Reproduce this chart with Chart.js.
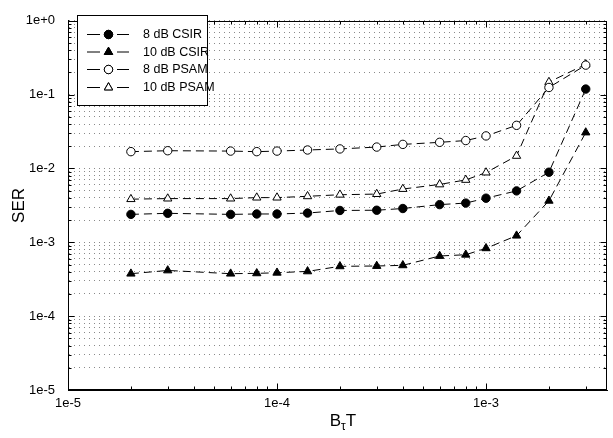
<!DOCTYPE html>
<html>
<head>
<meta charset="utf-8">
<script src="https://cdn.jsdelivr.net/npm/chart.js@4.4.0/dist/chart.umd.min.js"></script>
<style>
  html, body { margin: 0; padding: 0; background: #fff; }
  #wrap { width: 613px; height: 438px; position: relative; }
</style>
</head>
<body>
<div id="wrap"><canvas id="c" width="613" height="438"></canvas></div>
<script>
// Normalised Doppler bandwidth B_tau*T sampled in the simulation
const bandwidthTime = [2e-5, 3e-5, 6e-5, 8e-5, 1e-4, 1.4e-4, 2e-4, 3e-4, 4e-4, 6e-4, 8e-4, 1e-3, 1.4e-3, 2e-3, 3e-3];

// Symbol error rate per scheme / SNR
const ser8dbCsir  = [2.39e-3, 2.47e-3, 2.39e-3, 2.42e-3, 2.42e-3, 2.49e-3, 2.70e-3, 2.72e-3, 2.87e-3, 3.24e-3, 3.40e-3, 3.96e-3, 4.97e-3, 8.9e-3, 1.19e-1];
const ser10dbCsir = [3.76e-4, 4.16e-4, 3.76e-4, 3.80e-4, 3.87e-4, 4.04e-4, 4.73e-4, 4.78e-4, 4.88e-4, 6.53e-4, 6.79e-4, 8.3e-4, 1.23e-3, 3.65e-3, 3.07e-2];
const ser8dbPsam  = [1.69e-2, 1.74e-2, 1.72e-2, 1.69e-2, 1.72e-2, 1.78e-2, 1.84e-2, 1.95e-2, 2.12e-2, 2.26e-2, 2.39e-2, 2.76e-2, 3.84e-2, 1.25e-1, 2.51e-1];
const ser10dbPsam = [3.84e-3, 3.91e-3, 3.91e-3, 4.03e-3, 4.03e-3, 4.2e-3, 4.41e-3, 4.5e-3, 5.27e-3, 6.08e-3, 7.0e-3, 8.8e-3, 1.48e-2, 1.48e-1, 2.57e-1];

const seriesLabels = ['8 dB CSIR', '10 dB CSIR', '8 dB PSAM', '10 dB PSAM'];
const seriesValues = [ser8dbCsir, ser10dbCsir, ser8dbPsam, ser10dbPsam];

// Axis ranges (decades)
const xRange = [1e-5, 3.8e-3];
const yRange = [1e-5, 1];

const FONT = '"Liberation Sans", Arial, sans-serif';

const markerShapes = ['circle', 'triangle', 'circle', 'triangle'];
const markerFills  = ['#000', '#000', '#fff', '#fff'];
const markerRadius = [4.2, 4.8, 4.2, 4.8];

function logTicks(min, max) {
  const out = [];
  const e0 = Math.floor(Math.log10(min) + 1e-9);
  const e1 = Math.ceil(Math.log10(max) - 1e-9);
  for (let e = e0; e <= e1; e++) {
    for (let m = 1; m <= 9; m++) {
      const v = m * Math.pow(10, e);
      if (v >= min * (1 - 1e-9) && v <= max * (1 + 1e-9)) out.push({ value: v });
    }
  }
  return out;
}
function isDecade(v) {
  const l = Math.log10(v);
  return Math.abs(l - Math.round(l)) < 1e-6;
}
function decadeLabel(v) {
  if (!isDecade(v)) return '';
  const e = Math.round(Math.log10(v));
  return '1e' + (e >= 0 ? '+' : '-') + Math.abs(e);
}

const datasets = seriesLabels.map((label, i) => ({
  label,
  data: bandwidthTime.map((x, k) => ({ x, y: seriesValues[i][k] })),
  borderColor: '#000',
  borderWidth: 1,
  borderDash: [8, 5],
  fill: false,
  tension: 0,
  pointStyle: markerShapes[i],
  pointRadius: markerRadius[i],
  pointBackgroundColor: markerFills[i],
  pointBorderColor: '#000',
  pointBorderWidth: 1,
  pointHoverRadius: markerRadius[i]
}));

// Frame, inward tick marks, in-plot legend and subscripted x title
const decorations = {
  id: 'decorations',
  afterDatasetsDraw(chart) {
    const ctx = chart.ctx;
    const a = chart.chartArea;
    const xs = chart.scales.x, ys = chart.scales.y;
    const L = Math.round(a.left) + 0.5, R = Math.round(a.right) - 0.5;
    const T = Math.round(a.top) + 0.5, B = Math.round(a.bottom) - 0.5;

    ctx.save();
    ctx.strokeStyle = '#000';
    ctx.lineWidth = 1;
    ctx.setLineDash([]);
    ctx.strokeRect(L, T, R - L, B - T);

    ctx.beginPath();
    xs.ticks.forEach(t => {
      const px = Math.round(xs.getPixelForValue(t.value)) + 0.5;
      const len = isDecade(t.value) ? 6 : 3;
      ctx.moveTo(px, B); ctx.lineTo(px, B - len);
      ctx.moveTo(px, T); ctx.lineTo(px, T + len);
    });
    ys.ticks.forEach(t => {
      const py = Math.round(ys.getPixelForValue(t.value)) + 0.5;
      const len = isDecade(t.value) ? 6 : 3;
      ctx.moveTo(L, py); ctx.lineTo(L + len, py);
      ctx.moveTo(R, py); ctx.lineTo(R - len, py);
    });
    ctx.stroke();

    // legend box
    const lx = 77.5, ly = 15.5, lw = 130, lh = 90;
    ctx.fillStyle = '#fff';
    ctx.fillRect(lx, ly, lw, lh);
    ctx.strokeRect(lx, ly, lw, lh);
    const rowY = [34.5, 52, 69.5, 87.5];
    chart.data.datasets.forEach((ds, i) => {
      const y = rowY[i];
      ctx.beginPath();
      ctx.moveTo(87, y); ctx.lineTo(100, y);
      ctx.moveTo(117, y); ctx.lineTo(129, y);
      ctx.strokeStyle = '#000';
      ctx.stroke();
      Chart.helpers.drawPoint(ctx, {
        pointStyle: ds.pointStyle,
        radius: ds.pointRadius,
        rotation: 0,
        borderWidth: 1
      }, 108.5, y);
      ctx.fillStyle = ds.pointBackgroundColor;
      ctx.strokeStyle = '#000';
      ctx.fill();
      ctx.stroke();
      ctx.fillStyle = '#000';
      ctx.font = '12.5px ' + FONT;
      ctx.textBaseline = 'middle';
      ctx.textAlign = 'left';
      ctx.fillText(ds.label, 143, y + 0.5);
    });

    // x title: B subscript tau, T
    ctx.fillStyle = '#000';
    ctx.textBaseline = 'alphabetic';
    ctx.textAlign = 'left';
    const big = '17px ' + FONT, small = '12px ' + FONT;
    ctx.font = big; const wB = ctx.measureText('B').width, wT = ctx.measureText('T').width;
    ctx.font = small; const wt = ctx.measureText('τ').width;
    let x0 = 343 - (wB + wt + wT) / 2;
    const base = 426;
    ctx.font = big; ctx.fillText('B', x0, base); x0 += wB;
    ctx.font = small; ctx.fillText('τ', x0, base + 4); x0 += wt;
    ctx.font = big; ctx.fillText('T', x0, base);
    ctx.restore();
  }
};

new Chart(document.getElementById('c'), {
  type: 'line',
  data: { datasets },
  plugins: [decorations],
  options: {
    responsive: false,
    animation: false,
    events: [],
    layout: { padding: { left: 0, right: 1, top: 9, bottom: 0 } },
    plugins: { legend: { display: false }, tooltip: { enabled: false } },
    scales: {
      x: {
        type: 'logarithmic',
        min: xRange[0],
        max: xRange[1],
        afterBuildTicks: s => { s.ticks = logTicks(xRange[0], xRange[1]); },
        afterFit: s => { s.height = 48; },
        grid: { display: false, drawTicks: false },
        border: { display: true, color: '#000', width: 1 },
        ticks: {
          autoSkip: false,
          maxRotation: 0,
          padding: 6,
          color: '#000',
          font: { family: FONT, size: 13 },
          callback: v => decadeLabel(v)
        }
      },
      y: {
        type: 'logarithmic',
        min: yRange[0],
        max: yRange[1],
        afterBuildTicks: s => { s.ticks = logTicks(yRange[0], yRange[1]); },
        afterFit: s => { s.width = 68; },
        grid: { display: true, drawOnChartArea: true, drawTicks: false, color: '#8a8a8a', lineWidth: 1 },
        border: { display: true, color: '#000', width: 1, dash: [1, 4] },
        title: { display: true, text: 'SER', color: '#000', font: { family: FONT, size: 17 }, padding: { top: 9, bottom: 0 } },
        ticks: {
          autoSkip: false,
          padding: 13,
          color: '#000',
          font: { family: FONT, size: 13 },
          callback: v => decadeLabel(v)
        }
      }
    }
  }
});
</script>
</body>
</html>
